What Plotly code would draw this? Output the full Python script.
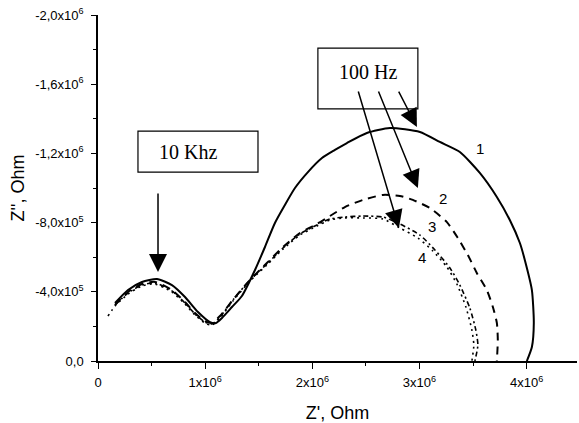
import plotly.graph_objects as go

# Curve 1 (solid)
x1 = [0.159, 0.280, 0.410, 0.550, 0.690, 0.812, 0.933, 1.045, 1.101, 1.157, 1.250, 1.343, 1.465,
      1.558, 1.651, 1.744, 1.838, 1.959, 2.090, 2.211, 2.323, 2.509, 2.724, 3.004, 3.190, 3.377, 3.563, 3.722,
      3.843, 3.937, 3.983, 4.049, 4.067, 4.049, 4.002]
y1 = [-0.335, -0.410, -0.457, -0.474, -0.439, -0.370, -0.283, -0.225, -0.220, -0.249, -0.312, -0.376, -0.526,
      -0.659, -0.798, -0.902, -1.000, -1.092, -1.173, -1.220, -1.260, -1.318, -1.347, -1.324, -1.266, -1.208, -1.087, -0.948,
      -0.815, -0.682, -0.584, -0.410, -0.220, -0.081, 0.0]

# Curve 2 (dashed)
x2 = [0.159, 0.280, 0.410, 0.532, 0.690, 0.812, 0.905, 0.998, 1.063, 1.138, 1.259, 1.418, 1.576,
      1.726, 1.884, 2.043, 2.164, 2.304, 2.472, 2.659, 2.817, 2.938, 3.097, 3.256, 3.358, 3.451,
      3.535, 3.629, 3.685, 3.722, 3.731, 3.722]
y2 = [-0.324, -0.399, -0.445, -0.457, -0.410, -0.341, -0.277, -0.231, -0.220, -0.260, -0.353, -0.468, -0.566,
      -0.659, -0.740, -0.792, -0.838, -0.890, -0.931, -0.960, -0.954, -0.931, -0.884, -0.803, -0.711, -0.613,
      -0.509, -0.410, -0.312, -0.220, -0.121, 0.0]

# Curve 3 (dash-dot)
x3 = [0.159, 0.280, 0.410, 0.532, 0.690, 0.812, 0.905, 0.998, 1.063, 1.138, 1.259, 1.418, 1.576,
      1.726, 1.884, 2.043, 2.164, 2.304, 2.472, 2.659, 2.817, 3.004, 3.144, 3.284, 3.377, 3.470,
      3.526, 3.545, 3.517]
y3 = [-0.324, -0.393, -0.439, -0.451, -0.405, -0.335, -0.272, -0.225, -0.214, -0.254, -0.353, -0.468, -0.561,
      -0.653, -0.734, -0.786, -0.821, -0.832, -0.838, -0.832, -0.792, -0.728, -0.642, -0.538, -0.439, -0.306,
      -0.179, -0.092, 0.0]

# Curve 4 (dotted)
x4 = [0.093, 0.159, 0.280, 0.410, 0.532, 0.690, 0.812, 0.905, 0.998, 1.063, 1.138, 1.259, 1.418, 1.576,
      1.726, 1.884, 2.043, 2.164, 2.304, 2.472, 2.659, 2.817, 2.985, 3.125, 3.256, 3.349, 3.433,
      3.489, 3.507, 3.489]
y4 = [-0.260, -0.318, -0.387, -0.434, -0.445, -0.399, -0.329, -0.266, -0.220, -0.208, -0.249, -0.347, -0.462, -0.555,
      -0.647, -0.728, -0.780, -0.815, -0.827, -0.827, -0.821, -0.769, -0.711, -0.636, -0.543, -0.445, -0.312,
      -0.179, -0.092, 0.0]

SCALE = 1e6

x_tickvals = [0, 1e6, 2e6, 3e6, 4e6]
x_ticktext = ["0", "1x10<sup>6</sup>", "2x10<sup>6</sup>", "3x10<sup>6</sup>", "4x10<sup>6</sup>"]
x_minor = [0.5e6, 1.5e6, 2.5e6, 3.5e6]
y_tickvals = [0, -0.4e6, -0.8e6, -1.2e6, -1.6e6, -2.0e6]
y_ticktext = ["0,0", "-4,0x10<sup>5</sup>", "-8,0x10<sup>5</sup>", "-1,2x10<sup>6</sup>",
              "-1,6x10<sup>6</sup>", "-2,0x10<sup>6</sup>"]
y_minor = [-0.2e6, -0.6e6, -1.0e6, -1.4e6, -1.8e6]

curve_labels = ["1", "2", "3", "4"]
label_x = [3.563, 3.218, 3.116, 3.022]
label_y = [-1.231, -0.942, -0.775, -0.601]

def sc(v):
    return [a * SCALE for a in v]

fig = go.Figure()
fig.add_trace(go.Scatter(x=sc(x1), y=sc(y1), mode="lines",
                         line=dict(color="black", width=2, shape="spline", smoothing=0.6)))
fig.add_trace(go.Scatter(x=sc(x2), y=sc(y2), mode="lines",
                         line=dict(color="black", width=2, dash="8px,6px", shape="spline", smoothing=0.6)))
fig.add_trace(go.Scatter(x=sc(x3), y=sc(y3), mode="lines",
                         line=dict(color="black", width=1.6, dash="5px,3px,2px,3px", shape="spline", smoothing=0.6)))
fig.add_trace(go.Scatter(x=sc(x4), y=sc(y4), mode="lines",
                         line=dict(color="black", width=1.6, dash="2px,4px", shape="spline", smoothing=0.6)))

# Annotation boxes (white filled rectangles)
fig.add_shape(type="rect", xref="x", yref="y", x0=0.373e6, x1=1.493e6, y0=-1.329e6, y1=-1.092e6,
              line=dict(color="black", width=1.2), fillcolor="white", layer="above")
fig.add_shape(type="rect", xref="x", yref="y", x0=2.052e6, x1=2.985e6, y0=-1.809e6, y1=-1.457e6,
              line=dict(color="black", width=1.2), fillcolor="white", layer="above")

anns = []
for t, lx, ly in zip(curve_labels, label_x, label_y):
    anns.append(dict(x=lx * SCALE, y=ly * SCALE, xref="x", yref="y", text=t, showarrow=False,
                     font=dict(family="Liberation Sans", size=15, color="black")))

anns.append(dict(x=0.840e6, y=-1.208e6, xref="x", yref="y", text="10 Khz", showarrow=False,
                 font=dict(family="Liberation Serif", size=20, color="black")))
anns.append(dict(x=2.519e6, y=-1.668e6, xref="x", yref="y", text="100 Hz", showarrow=False,
                 font=dict(family="Liberation Serif", size=20, color="black")))

# Arrows
arrows = [
    (0.560e6, -0.514e6, 0.560e6, -0.977e6),
    (2.976e6, -1.353e6, 2.799e6, -1.566e6),
    (2.985e6, -1.000e6, 2.612e6, -1.566e6),
    (2.808e6, -0.769e6, 2.425e6, -1.566e6),
]
for tx, ty, axv, ayv in arrows:
    anns.append(dict(x=tx, y=ty, xref="x", yref="y", ax=axv, ay=ayv, axref="x", ayref="y",
                     text="", showarrow=True, arrowhead=2, arrowsize=2.4, arrowwidth=1.5,
                     arrowcolor="black", standoff=0, startstandoff=0))

fig.update_layout(
    width=579, height=423,
    margin=dict(l=98, r=2, t=15, b=62, autoexpand=False),
    paper_bgcolor="white", plot_bgcolor="white",
    showlegend=False,
    annotations=anns,
    font=dict(family="Liberation Sans", color="black"),
)
fig.update_xaxes(range=[0, 4.47e6], tickmode="array", tickvals=x_tickvals, ticktext=x_ticktext,
                 automargin=False, ticklabelstandoff=3,
                 showgrid=False, zeroline=False, showline=True, linecolor="black", linewidth=1.5,
                 ticks="outside", ticklen=6, tickwidth=1.2, tickcolor="black",
                 tickfont=dict(family="Liberation Sans", size=13, color="black"),
                 minor=dict(tickmode="array", tickvals=x_minor, ticks="outside", ticklen=3, tickcolor="black"),
                 title=dict(text="Z', Ohm", font=dict(family="Liberation Sans", size=18, color="black"), standoff=19))
fig.update_yaxes(range=[0, -2.0e6], tickmode="array", tickvals=y_tickvals, ticktext=y_ticktext,
                 automargin=False, ticklabelstandoff=5,
                 showgrid=False, zeroline=False, showline=True, linecolor="black", linewidth=1.5,
                 ticks="outside", ticklen=5, tickwidth=1.2, tickcolor="black",
                 tickfont=dict(family="Liberation Sans", size=13, color="black"),
                 minor=dict(tickmode="array", tickvals=y_minor, ticks="outside", ticklen=3, tickcolor="black"),
                 title=dict(text="Z'', Ohm", font=dict(family="Liberation Sans", size=18, color="black"), standoff=6))

fig.write_html("out.html", config={"displayModeBar": False})

# remove default page margin so the figure sits at the window origin
with open("out.html", "r", encoding="utf-8") as f:
    html = f.read()
html = html.replace("<head>", "<head><style>html,body{margin:0;padding:0;overflow:hidden;}</style>", 1)
with open("out.html", "w", encoding="utf-8") as f:
    f.write(html)
